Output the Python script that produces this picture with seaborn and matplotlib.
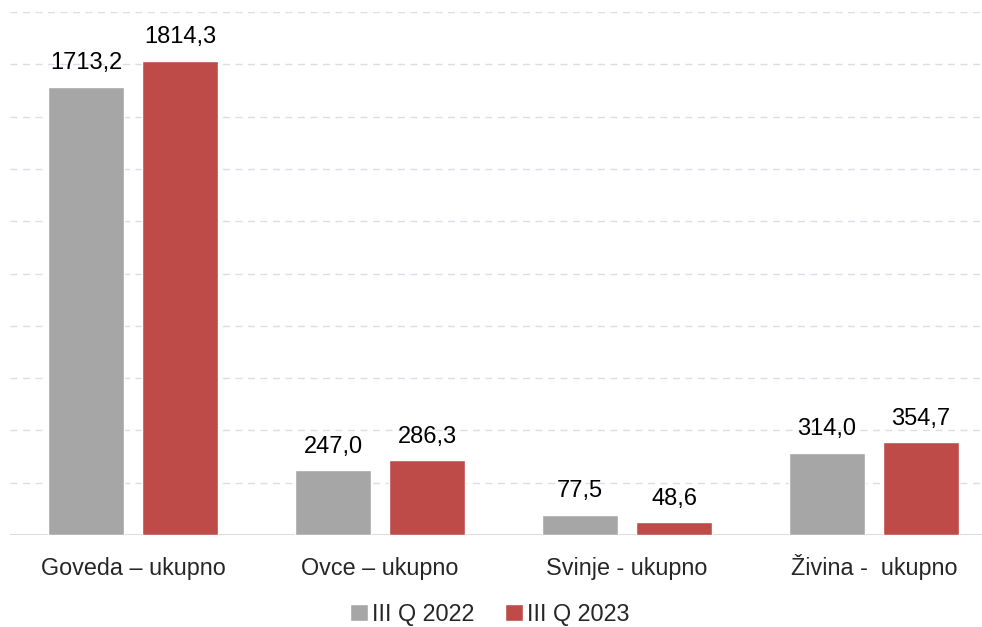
import matplotlib
matplotlib.use("Agg")
import matplotlib.pyplot as plt
import seaborn as sns
import pandas as pd

# data
categories = ["Goveda – ukupno", "Ovce – ukupno", "Svinje - ukupno", "Živina -  ukupno"]
q2022 = [1713.2, 247.0, 77.5, 314.0]
q2023 = [1814.3, 286.3, 48.6, 354.7]
series = ["III Q 2022", "III Q 2023"]

df = pd.DataFrame({
    "kat": categories * 2,
    "vrijednost": q2022 + q2023,
    "period": [series[0]] * 4 + [series[1]] * 4,
})

sns.set_style("white")
plt.rcParams['font.family'] = ['Liberation Sans', 'DejaVu Sans']

fig = plt.figure(figsize=(9.82, 6.27), dpi=100)
ax = fig.add_axes([9.5 / 982, 1 - 535 / 627, 972.5 / 982, (535 - 12) / 627])

sns.barplot(data=df, x="kat", y="vrijednost", hue="period",
            palette=["#a6a6a6", "#be4b48"], width=0.762, gap=0.19,
            saturation=1, ax=ax, errorbar=None)

ax.set_ylim(0, 2000)
ax.set_xlim(-0.5, 3.5 - 15.5 / 247)
ax.set_yticks(range(200, 2001, 200))
ax.yaxis.grid(True, linestyle=(0, (5, 4)), color="#d9dde6", linewidth=1)
ax.set_axisbelow(True)
ax.axhline(0, color="#d9dde6", linewidth=1.5, zorder=0.5)
ax.set_yticklabels([])
ax.tick_params(axis="y", length=0)
ax.tick_params(axis="x", length=0, pad=28.5, labelsize=16.8)
for t in ax.get_xticklabels():
    t.set_verticalalignment("baseline")
ax.set_xlabel("")
ax.set_ylabel("")
for s in ax.spines.values():
    s.set_visible(False)

for cont in ax.containers:
    labels = [f"{b.get_height():.1f}".replace(".", ",") for b in cont]
    ax.bar_label(cont, labels=labels, padding=9, fontsize=17, color="#000000")

handles, labs = ax.get_legend_handles_labels()
ax.legend(handles, labs, loc="center", frameon=False, ncol=2, fontsize=16.8,
          handlelength=0.75, handleheight=0.75, handletextpad=0.2, columnspacing=1.3)
leg = ax.get_legend()
leg.set_bbox_to_anchor((490 / 982, 1 - 614 / 627), transform=fig.transFigure)

fig.savefig("out.png", dpi=100)
